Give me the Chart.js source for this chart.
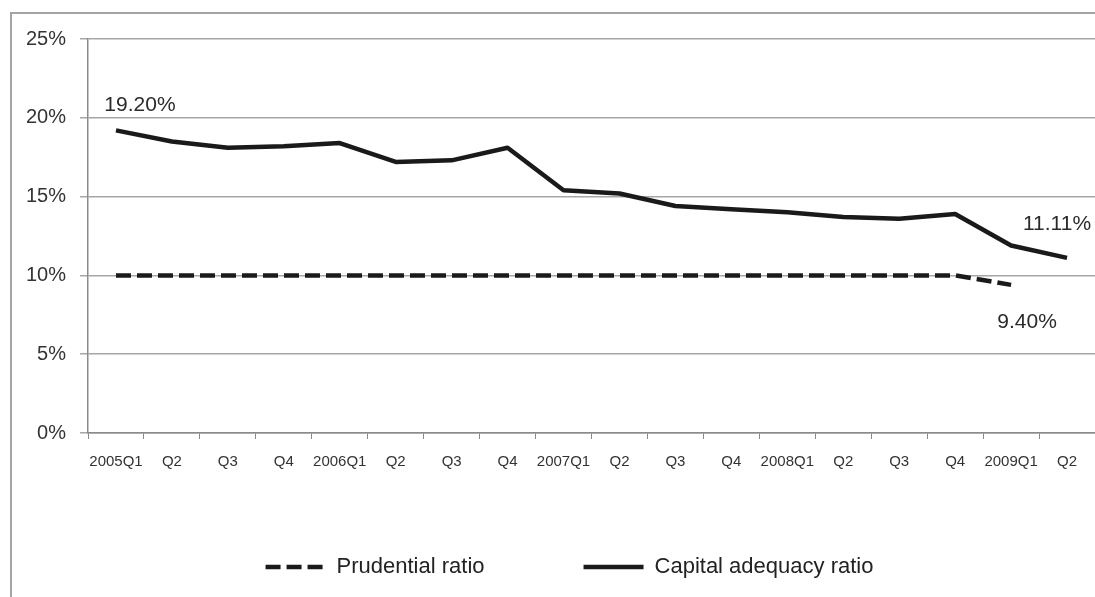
<!DOCTYPE html>
<html>
<head>
<meta charset="utf-8">
<script src="https://cdn.jsdelivr.net/npm/chart.js@4.4.1/dist/chart.umd.min.js"></script>
<style>
  html, body { margin: 0; padding: 0; background: #fff; overflow: hidden; }
  #wrap { position: relative; width: 1095px; height: 597px; overflow: hidden; }
  #frame {
    position: absolute; left: 10px; top: 12px; width: 1200px; height: 700px;
    border-left: 2px solid #a4a4a4; border-top: 2px solid #a4a4a4;
  }
  #c { position: absolute; left: 0; top: 0; }
</style>
</head>
<body>
<div id="wrap">
  <div id="frame"></div>
  <canvas id="c" width="1095" height="597"></canvas>
</div>
<script>
// Quarterly periods, 2005Q1 – 2009Q2
const quarters = ['2005Q1', 'Q2', 'Q3', 'Q4',
                  '2006Q1', 'Q2', 'Q3', 'Q4',
                  '2007Q1', 'Q2', 'Q3', 'Q4',
                  '2008Q1', 'Q2', 'Q3', 'Q4',
                  '2009Q1', 'Q2'];

// Capital adequacy ratio, %
const capitalAdequacy = [19.2, 18.5, 18.1, 18.2, 18.4, 17.2, 17.3, 18.1,
                         15.4, 15.2, 14.4, 14.2, 14.0, 13.7, 13.6, 13.9,
                         11.9, 11.11];

// Prudential (minimum) ratio, %
const prudential = [10, 10, 10, 10, 10, 10, 10, 10,
                    10, 10, 10, 10, 10, 10, 10, 10,
                    9.4, null];

// Y axis ticks, %
const yTicks = [0, 5, 10, 15, 20, 25];

// Points that carry a value label: dataset index, point index, offset of the label centre
const valueLabels = [
  { ds: 1, i: 0,  dx: 24,  dy: -25 },
  { ds: 1, i: 17, dx: -10, dy: -34 },
  { ds: 0, i: 16, dx: 16,  dy: 37 }
];

const ink = '#1a1a1a';
const gridGrey = '#a6a6a6';
const FONT = '"Liberation Sans", Arial, sans-serif';
const LINE_WIDTH = 4.5;

// Legend placement: top edge of the legend box and horizontal nudge
const LEGEND_TOP = 457;
const LEGEND_NUDGE_X = 22;

const valueLabelPlugin = {
  id: 'valueLabels',
  afterDatasetsDraw(chart) {
    const ctx = chart.ctx;
    ctx.save();
    ctx.font = '21px ' + FONT;
    ctx.fillStyle = '#2a2a2a';
    ctx.textAlign = 'center';
    ctx.textBaseline = 'middle';
    valueLabels.forEach(l => {
      const pt = chart.getDatasetMeta(l.ds).data[l.i];
      const v = chart.data.datasets[l.ds].data[l.i];
      ctx.fillText(v.toFixed(2) + '%', pt.x + l.dx, pt.y + l.dy);
    });
    ctx.restore();
  }
};

// The legend sits below the axis labels; move its box after layout
const legendPlacer = {
  id: 'legendPlacer',
  afterLayout(chart) {
    const lg = chart.legend;
    if (!lg) return;
    lg.top = LEGEND_TOP;
    lg.bottom = chart.height;
    lg.height = lg.bottom - lg.top;
    lg.left += LEGEND_NUDGE_X;
    lg.right += LEGEND_NUDGE_X;
  }
};

// Legend samples are short line strokes carrying each dataset's dash pattern
function lineLegendLabels(chart) {
  const items = Chart.defaults.plugins.legend.labels.generateLabels(chart);
  items.forEach(item => {
    const ds = chart.data.datasets[item.datasetIndex];
    item.lineDash = ds.borderDash || [];
    item.lineWidth = ds.borderWidth;
    item.strokeStyle = ds.borderColor;
    item.fillStyle = ds.borderColor;
    item.pointStyle = 'line';
  });
  return items;
}

new Chart(document.getElementById('c'), {
  type: 'line',
  data: {
    labels: quarters,
    datasets: [
      {
        label: 'Prudential ratio',
        data: prudential,
        borderColor: ink,
        backgroundColor: ink,
        borderWidth: LINE_WIDTH,
        borderDash: [15, 6],
        borderCapStyle: 'butt',
        pointRadius: 0,
        tension: 0,
        spanGaps: false
      },
      {
        label: 'Capital adequacy ratio',
        data: capitalAdequacy,
        borderColor: ink,
        backgroundColor: ink,
        borderWidth: LINE_WIDTH,
        borderJoinStyle: 'round',
        pointRadius: 0,
        tension: 0
      }
    ]
  },
  options: {
    responsive: false,
    animation: false,
    devicePixelRatio: 1,
    layout: { padding: { left: 0, right: 0, top: 39, bottom: 9 } },
    plugins: {
      tooltip: { enabled: false },
      legend: {
        position: 'bottom',
        maxHeight: 60,
        labels: {
          usePointStyle: true,
          pointStyle: 'line',
          pointStyleWidth: 60,
          boxWidth: 60,
          boxHeight: 22,
          padding: 99,
          color: '#222',
          font: { family: FONT, size: 22 },
          generateLabels: lineLegendLabels
        }
      }
    },
    scales: {
      x: {
        offset: true,
        grid: {
          offset: true,
          drawOnChartArea: false,
          drawTicks: true,
          tickLength: 6,
          color: '#8a8a8a'
        },
        border: { display: true, color: '#8a8a8a', width: 1.5 },
        ticks: {
          autoSkip: false,
          maxRotation: 0,
          minRotation: 0,
          padding: 14,
          color: '#333',
          font: { family: FONT, size: 15 }
        },
        afterFit(scale) { scale.height = 95; }
      },
      y: {
        min: 0,
        max: 25,
        afterBuildTicks(scale) { scale.ticks = yTicks.map(v => ({ value: v })); },
        grid: {
          color: gridGrey,
          lineWidth: 1.5,
          drawTicks: true,
          tickLength: 8
        },
        border: { display: true, color: '#8a8a8a', width: 1.5 },
        ticks: {
          padding: 14,
          color: '#333',
          font: { family: FONT, size: 20 },
          callback: v => v + '%'
        },
        afterFit(scale) { scale.width = 88; }
      }
    }
  },
  plugins: [valueLabelPlugin, legendPlacer]
});
</script>
</body>
</html>
